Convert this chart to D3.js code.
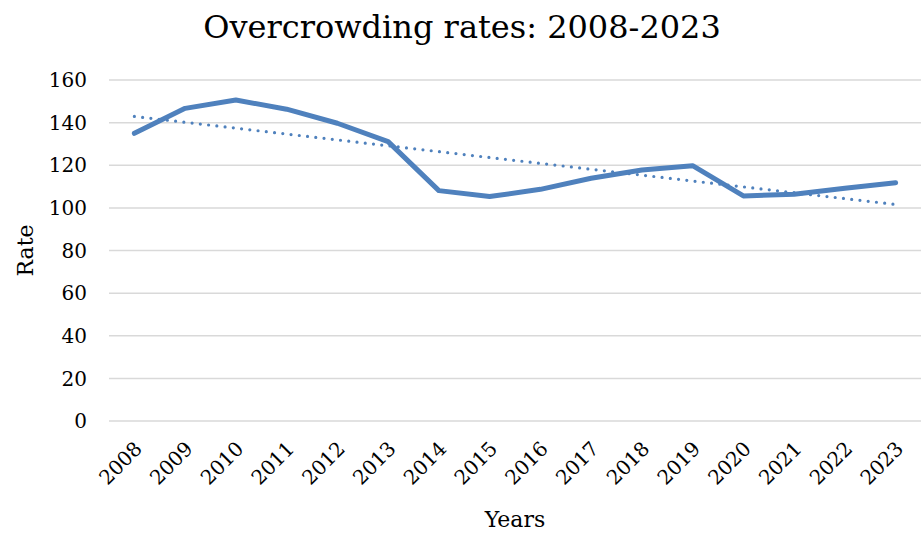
<!DOCTYPE html>
<html>
<head>
<meta charset="utf-8">
<script src="https://cdn.jsdelivr.net/npm/d3@7"></script>
<style>
  body { margin: 0; background: #fff; }
  text { font-family: "DejaVu Serif", "Liberation Serif", serif; fill: #000; }
</style>
</head>
<body>
<div id="chart"></div>
<script>
// Overcrowding rates line chart with linear trendline

const years = ["2008", "2009", "2010", "2011", "2012", "2013", "2014", "2015",
  "2016", "2017", "2018", "2019", "2020", "2021", "2022", "2023"];
const rates = [135.0, 146.7, 150.6, 146.3, 139.7, 131.1, 108.1, 105.3,
  108.7, 113.9, 117.8, 119.8, 105.6, 106.4, 109.2, 111.8];
const yTicks = [0, 20, 40, 60, 80, 100, 120, 140, 160];

const width = 921,
    height = 533,
    margin = ({ top: 80, right: 0, bottom: 112, left: 109 });

const svg = d3.select("#chart")
  .append("svg")
  .attr("width", width)
  .attr("height", height);

const x = d3.scaleBand()
  .domain(years)
  .range([margin.left, width - margin.right]);

const y = d3.scaleLinear()
  .domain([0, 160])
  .range([height - margin.bottom, margin.top]);

const cx = d => x(d) + x.bandwidth() / 2;

// gridlines
svg.append("g")
  .selectAll("line")
  .data(yTicks)
  .join("line")
  .attr("x1", margin.left)
  .attr("x2", width - margin.right)
  .attr("y1", d => y(d))
  .attr("y2", d => y(d))
  .attr("stroke", "#d9d9d9")
  .attr("stroke-width", 1.5);

// y tick labels
svg.append("g")
  .selectAll("text")
  .data(yTicks)
  .join("text")
  .attr("x", 87)
  .attr("y", d => y(d))
  .attr("dy", "0.36em")
  .attr("text-anchor", "end")
  .style("font-size", "20px")
  .text(d => d);

// x tick labels, rotated
svg.append("g")
  .selectAll("text")
  .data(years)
  .join("text")
  .attr("text-anchor", "end")
  .attr("transform", d => `translate(${cx(d) + 9},${y(0) + 29}) rotate(-45)`)
  .style("font-size", "20px")
  .text(d => d);

// linear trendline (least squares over the series)
const idx = d3.range(rates.length);
const mx = d3.mean(idx), my = d3.mean(rates);
const slope = d3.sum(idx, i => (i - mx) * (rates[i] - my)) / d3.sum(idx, i => (i - mx) ** 2);
const icpt = my - slope * mx;

svg.append("line")
  .attr("x1", cx(years[0]))
  .attr("y1", y(icpt))
  .attr("x2", cx(years[years.length - 1]))
  .attr("y2", y(icpt + slope * (years.length - 1)))
  .attr("stroke", "#4f81bd")
  .attr("stroke-width", 3.2)
  .attr("stroke-linecap", "round")
  .attr("stroke-dasharray", "0 8.3");

// main line
const line = d3.line()
  .x((d, i) => cx(years[i]))
  .y(d => y(d));

svg.append("path")
  .datum(rates)
  .attr("d", line)
  .attr("fill", "none")
  .attr("stroke", "#4f81bd")
  .attr("stroke-width", 5)
  .attr("stroke-linejoin", "round")
  .attr("stroke-linecap", "round");

// title and axis titles
svg.append("text")
  .attr("x", 462)
  .attr("y", 38)
  .attr("text-anchor", "middle")
  .style("font-size", "32px")
  .text("Overcrowding rates: 2008-2023");

svg.append("text")
  .attr("x", 515)
  .attr("y", 527)
  .attr("text-anchor", "middle")
  .style("font-size", "22px")
  .text("Years");

svg.append("text")
  .attr("transform", `translate(33,${(y(0) + y(160)) / 2}) rotate(-90)`)
  .attr("text-anchor", "middle")
  .style("font-size", "22px")
  .text("Rate");
</script>
</body>
</html>
